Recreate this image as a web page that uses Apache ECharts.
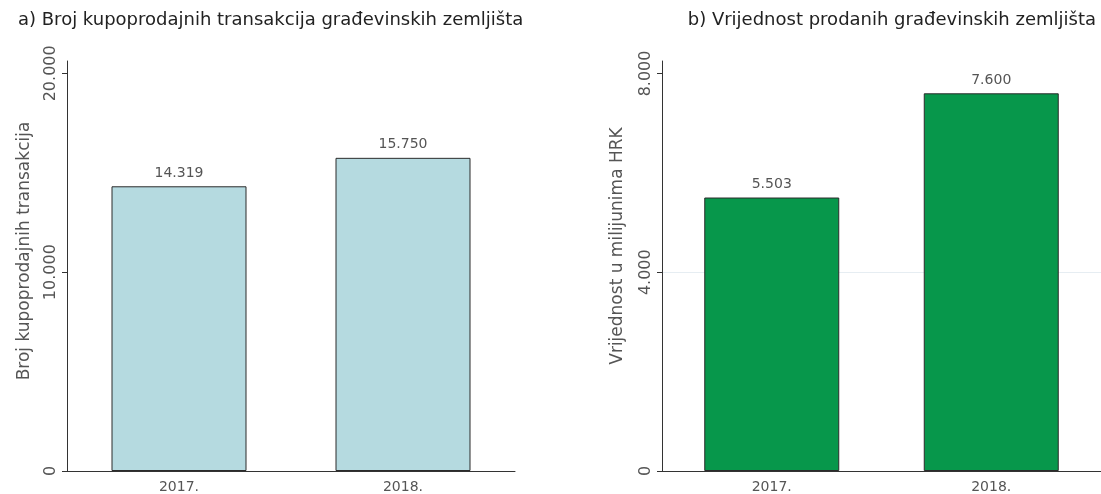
<!DOCTYPE html>
<html>
<head>
<meta charset="utf-8">
<script src="https://cdn.jsdelivr.net/npm/echarts@6/dist/echarts.min.js"></script>
<style>
  html, body { margin: 0; padding: 0; background: #fff; }
  #chart { width: 1101px; height: 494px; }
</style>
</head>
<body>
<div id="chart"></div>
<script>
// Categories and values
const years = ['2017.', '2018.'];
const transactions = [14319, 15750];          // broj transakcija
const valueMillionHRK = [5503, 7600];         // vrijednost, mil. HRK
const ticksLeft = [0, 10000, 20000];
const ticksRight = [0, 4000, 8000];

const FONT = '"DejaVu Sans", sans-serif';
const TXT = '#555';

// Croatian thousands separator: 20.000
function fmt(v) {
  return String(Math.round(v)).replace(/\B(?=(\d{3})+(?!\d))/g, '.');
}

const chart = echarts.init(document.getElementById('chart'), null, { renderer: 'canvas' });

function yAxisCfg(gridIndex, name, max, ticks, gridColor, nameGap, namePad) {
  return {
    type: 'value',
    gridIndex: gridIndex,
    min: 0,
    max: max,
    name: name,
    nameLocation: 'middle',
    nameGap: nameGap,
    nameTextStyle: {
      color: TXT, fontFamily: FONT, fontSize: 17, fontWeight: 400,
      padding: [0, 0, 0, namePad]
    },
    axisLine: { show: true, lineStyle: { color: '#333', width: 1 } },
    axisTick: { show: true, length: 5, customValues: ticks, lineStyle: { color: '#333' } },
    axisLabel: {
      customValues: ticks,
      rotate: 90,
      margin: 8,
      color: TXT,
      fontFamily: FONT,
      fontSize: 16,
      fontWeight: 400,
      formatter: fmt
    },
    splitLine: {
      show: true,
      lineStyle: { color: gridColor, width: 1 }
    }
  };
}

function xAxisCfg(gridIndex) {
  return {
    type: 'category',
    gridIndex: gridIndex,
    data: years,
    axisLine: { show: true, lineStyle: { color: '#333', width: 1 } },
    axisTick: { show: false },
    axisLabel: { color: TXT, fontFamily: FONT, fontSize: 14, fontWeight: 400, margin: 9 }
  };
}

function labelCfg() {
  return {
    show: true,
    position: 'top',
    distance: 6,
    color: TXT,
    fontFamily: FONT,
    fontSize: 14,
    fontWeight: 400,
    formatter: p => fmt(p.value)
  };
}

chart.setOption({
  backgroundColor: '#fff',
  animation: false,
  title: [
    {
      text: 'a) Broj kupoprodajnih transakcija građevinskih zemljišta',
      left: 13, top: 6,
      textStyle: { color: '#222', fontFamily: FONT, fontSize: 18, fontWeight: 400 }
    },
    {
      text: 'b) Vrijednost prodanih građevinskih zemljišta',
      right: 0, top: 6,
      textStyle: { color: '#222', fontFamily: FONT, fontSize: 18, fontWeight: 400 }
    }
  ],
  grid: [
    { left: 67, width: 448, top: 61, bottom: 23 },
    { left: 662, width: 448, top: 61, bottom: 23 }
  ],
  xAxis: [xAxisCfg(0), xAxisCfg(1)],
  yAxis: [
    yAxisCfg(0, 'Broj kupoprodajnih transakcija', 20620, ticksLeft,
      ['transparent', 'transparent', 'transparent'], 34, 30),
    yAxisCfg(1, 'Vrijednost u milijunima HRK', 8250, ticksRight,
      ['transparent', '#e6edf2', 'transparent'], 36, 40)
  ],
  series: [
    {
      type: 'bar',
      xAxisIndex: 0, yAxisIndex: 0,
      data: transactions,
      barWidth: 135,
      itemStyle: { color: '#b5dae0', borderColor: '#2b2b2b', borderWidth: 1 },
      label: labelCfg()
    },
    {
      type: 'bar',
      xAxisIndex: 1, yAxisIndex: 1,
      data: valueMillionHRK,
      barWidth: 135,
      itemStyle: { color: '#07974b', borderColor: '#2b2b2b', borderWidth: 1 },
      label: labelCfg()
    }
  ]
});
</script>
</body>
</html>
